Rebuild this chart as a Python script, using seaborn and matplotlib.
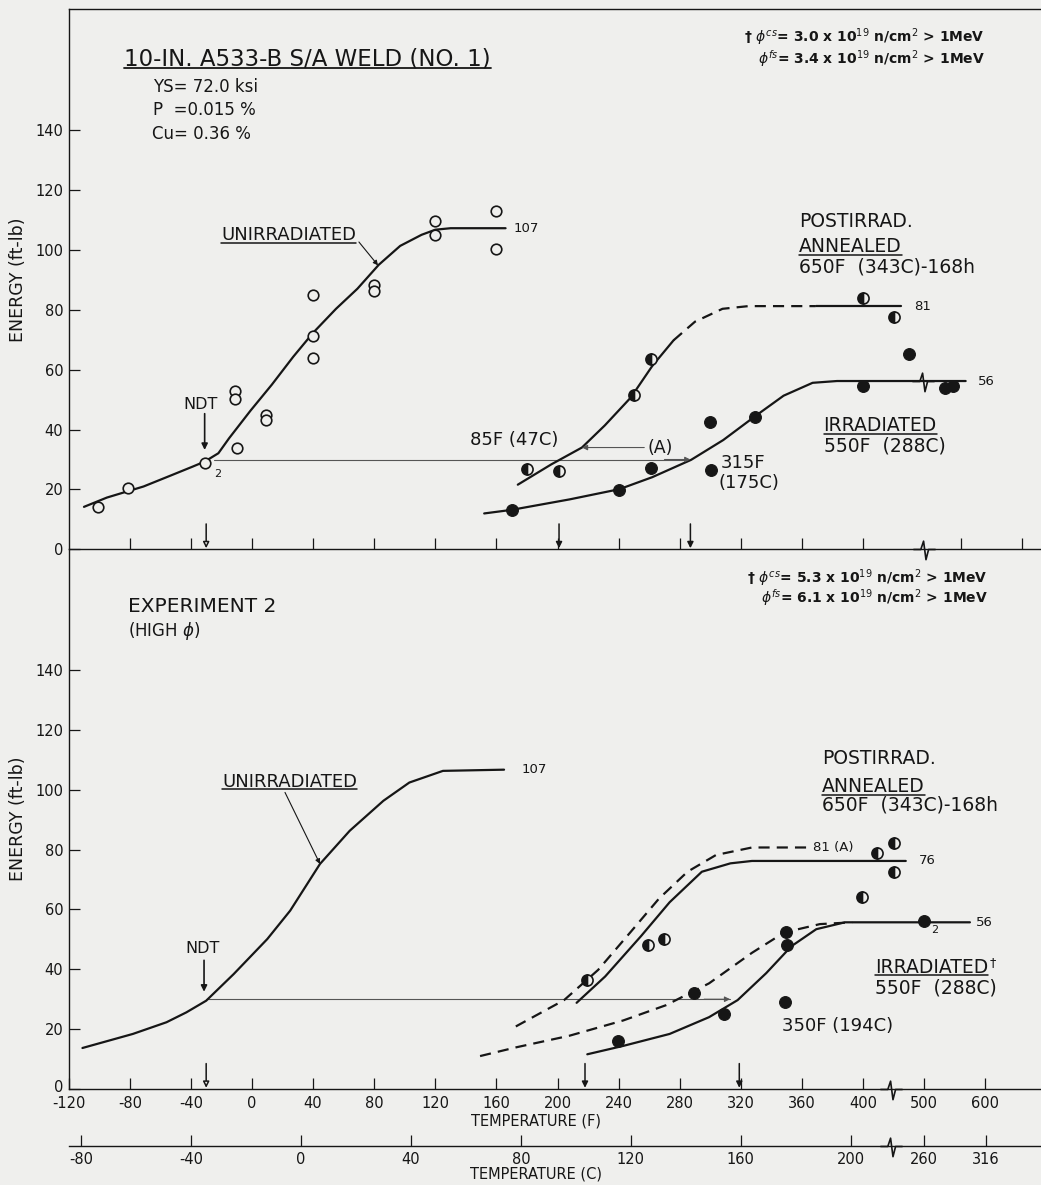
import numpy as np
import pandas as pd
import matplotlib
matplotlib.use("Agg")
import matplotlib.pyplot as plt
import seaborn as sns
from matplotlib.path import Path
from matplotlib.lines import Line2D
from matplotlib.transforms import ScaledTranslation

# ---------------- data ----------------
f_ticks_top = [-80, -40, 0, 40, 80, 120, 160, 200, 240, 280, 320, 360, 400, 500, 600]
f_ticks_bot = [-120, -80, -40, 0, 40, 80, 120, 160, 200, 240, 280, 320, 360, 400, 500, 600]
c_ticks = [-80, -40, 0, 40, 80, 120, 160, 200, 260, 316]
e_ticks = [0, 20, 40, 60, 80, 100, 120, 140]

# Experiment 1 (top panel)
e1_unirr_T = [-101, -81, -31, -10, -11, -11, 9, 9, 40, 40, 40, 80, 80, 120, 120, 160, 160]
e1_unirr_E = [14.0, 20.4, 29.0, 34.0, 52.8, 50.3, 44.9, 43.2, 85.0, 71.3, 63.9, 88.3, 86.2, 109.7, 104.8, 113.1, 100.3]
e1_unirr_fit_T = [-110, -95, -71, -53, -39, -31, -22, -15, -1, 13, 27, 40, 55, 69, 83, 97, 111, 120, 130, 166]
e1_unirr_fit_E = [14.2, 17.3, 21.0, 24.7, 27.6, 29.3, 32.1, 37.1, 46.3, 55.0, 64.3, 72.3, 80.3, 87.0, 95.0, 101.3, 105.0, 106.7, 107.2, 107.2]

e1_ann_T = [180, 201, 250, 261, 400, 420]
e1_ann_E = [26.8, 26.3, 51.5, 63.6, 84.0, 77.6]
e1_ann_fit_T = [174, 196, 216, 231, 248, 262, 276]
e1_ann_fit_E = [21.6, 28.4, 34.0, 41.4, 50.7, 61.2, 69.8]
e1_ann_dash_T = [276, 290, 308, 325, 369]
e1_ann_dash_E = [69.8, 76.0, 80.3, 81.2, 81.2]
e1_ann_upper_T = [369, 425]
e1_ann_upper_E = [81.2, 81.2]

e1_irr_T = [170, 240.5, 261, 300, 300.5, 329, 400, 430, 475, 488]
e1_irr_E = [13.2, 19.8, 27.2, 42.4, 26.6, 44.2, 54.6, 65.2, 53.8, 54.6]
e1_irr_fit_T = [152, 170, 208, 240.5, 262, 287.5, 308.5, 329.5, 348, 367, 383, 508]
e1_irr_fit_E = [12.0, 13.2, 16.7, 20.1, 24.1, 29.9, 36.5, 44.5, 51.3, 55.6, 56.2, 56.2]
e1_ref_T = [-25, 287]
e1_ref_E = [30, 30]
e1_arrows_T = [-30, 201, 287]

# Experiment 2 (bottom panel)
e2_unirr_fit_T = [-111, -78, -56, -43, -30, -12, 10, 25, 44.5, 64, 86, 103, 125, 165]
e2_unirr_fit_E = [13.7, 18.4, 22.3, 25.6, 29.5, 38.4, 50.1, 59.6, 75.2, 86.3, 96.3, 102.4, 106.3, 106.7]

e2_ann_T = [219.5, 259.4, 270, 399.4, 423, 451, 451]
e2_ann_E = [36.5, 48.0, 50.2, 64.3, 78.8, 82.2, 72.4]
e2_ann_dash_T = [172.7, 204.3, 226.6, 247.6, 266.4, 285.1, 303.8, 327.3, 364.8]
e2_ann_dash_E = [20.9, 29.7, 39.8, 52.3, 63.6, 72.6, 78.2, 80.7, 80.7]
e2_ann_fit_T = [212.5, 231.2, 254.7, 273.4, 294.5, 313.2, 327.3, 470]
e2_ann_fit_E = [28.8, 37.6, 51.1, 62.4, 72.6, 75.4, 76.2, 76.2]

e2_irr_T = [239.4, 289.4, 309.3, 349.5, 350.2, 349, 499]
e2_irr_E = [15.9, 32.2, 24.9, 52.3, 48.0, 29.1, 56.2]
e2_irr_dash_T = [149.3, 172.7, 207.8, 243, 271, 299.2, 327.3, 348.4, 371.8, 392.9]
e2_irr_dash_E = [11.0, 13.9, 17.8, 22.9, 28.0, 35.3, 45.5, 52.3, 55.1, 55.7]
e2_irr_fit_T = [219.5, 243, 273.4, 299.2, 317.9, 336.6, 353.1, 369.4, 388.2, 575]
e2_irr_fit_E = [11.6, 14.4, 18.4, 24.0, 29.7, 38.7, 47.7, 53.4, 55.7, 55.7]
e2_ref_T = [-30, 313]
e2_ref_E = [30, 30]
e2_arrows_T = [-30, 218, 319]

# ---------------- style ----------------
sns.set_theme(style="white")
plt.rcParams['font.family'] = ['DejaVu Sans']
plt.rcParams['mathtext.fontset'] = 'dejavusans'
plt.rcParams['axes.unicode_minus'] = False

BG = '#efefed'
INK = '#161616'
GREY = '#555555'
LW = 1.6
DASH = (0, (5, 3.2))


def broken_scale(b, k=0.4):
    def fwd(t):
        t = np.asarray(t, dtype=float)
        return np.where(t <= b, t, b + (t - b) * k)

    def inv(u):
        u = np.asarray(u, dtype=float)
        return np.where(u <= b, u, b + (u - b) / k)
    return (fwd, inv)


def f2c_pos(c):
    return np.asarray(c, dtype=float) * 9.0 / 5.0 + 32.0


fig = plt.figure(figsize=(10.41, 11.85), dpi=100, facecolor=BG)
L = 68.7 / 1041
W = 1 - L
a1 = fig.add_axes([L, 0.53637, W, 0.45587])
a2 = fig.add_axes([L, 0.08101, W, 0.45536])
for a in (a1, a2):
    a.set_facecolor('none')

a1.set_xscale('function', functions=broken_scale(440))
a2.set_xscale('function', functions=broken_scale(400))


def curve(ax, T, E, dashed=False, lw=LW, color=INK, z=3):
    sns.lineplot(x=T, y=E, ax=ax, color=color, lw=lw, sort=False, estimator=None,
                 linestyle=DASH if dashed else '-', zorder=z)


def open_pts(ax, T, E):
    sns.scatterplot(x=T, y=E, ax=ax, s=58, color=BG, edgecolor=INK, linewidth=1.2, zorder=5)


def solid_pts(ax, T, E):
    sns.scatterplot(x=T, y=E, ax=ax, s=72, color=INK, edgecolor=INK, linewidth=0.8, zorder=5)


def half_pts(ax, T, E):
    sns.lineplot(x=T, y=E, ax=ax, estimator=None, sort=False, linestyle='', marker='o',
                 markersize=8, fillstyle='left', markerfacecolor=INK,
                 markerfacecoloralt=BG, markeredgecolor=INK, markeredgewidth=1.2,
                 color=INK, zorder=5)


# ---- top panel ----
curve(a1, e1_unirr_fit_T, e1_unirr_fit_E)
open_pts(a1, e1_unirr_T, e1_unirr_E)
curve(a1, e1_ann_fit_T, e1_ann_fit_E)
curve(a1, e1_ann_dash_T, e1_ann_dash_E, dashed=True)
curve(a1, e1_ann_upper_T, e1_ann_upper_E)
half_pts(a1, e1_ann_T, e1_ann_E)
curve(a1, e1_irr_fit_T, e1_irr_fit_E)
solid_pts(a1, e1_irr_T, e1_irr_E)
curve(a1, e1_ref_T, e1_ref_E, lw=0.8, color=GREY, z=2)

# ---- bottom panel ----
curve(a2, e2_unirr_fit_T, e2_unirr_fit_E)
curve(a2, e2_ann_dash_T, e2_ann_dash_E, dashed=True)
curve(a2, e2_ann_fit_T, e2_ann_fit_E)
half_pts(a2, e2_ann_T, e2_ann_E)
curve(a2, e2_irr_dash_T, e2_irr_dash_E, dashed=True)
curve(a2, e2_irr_fit_T, e2_irr_fit_E)
solid_pts(a2, e2_irr_T, e2_irr_E)
curve(a2, e2_ref_T, e2_ref_E, lw=0.8, color=GREY, z=2)

# ---- axes ----
a1.set_xlim(-120, 631.3)
a2.set_xlim(-120, 691.3)
for a in (a1, a2):
    a.set_ylim(0, 180.3)
    a.set_yticks(e_ticks)
    a.set_yticklabels([str(v) for v in e_ticks])
    a.tick_params(axis='both', direction='in', length=8, width=0.9, colors=INK,
                  labelsize=10.5, pad=4, left=True, bottom=True)
    a.spines['right'].set_visible(False)
    for s in ('left', 'bottom', 'top'):
        a.spines[s].set_color(INK)
        a.spines[s].set_linewidth(1.0)
    a.set_ylabel('ENERGY (ft-lb)', fontsize=12.5, color=INK)
    a.yaxis.set_label_coords(-0.0432, 0.5)

a2.spines['top'].set_visible(False)
a1.set_xticks(f_ticks_top)
a1.tick_params(axis='x', labelbottom=False)
a2.set_xticks(f_ticks_bot)
a2.set_xticklabels([str(v) for v in f_ticks_bot])
a2.tick_params(axis='x', pad=5)
a2.set_xlabel('TEMPERATURE (F)', fontsize=10.5, color=INK)
a2.xaxis.set_label_coords(0.4806, -0.0455)
# lift the "0" energy label a little so it clears the "-120" temperature label
zero_lbl = a2.get_yticklabels()[0]
zero_lbl.set_transform(zero_lbl.get_transform() + ScaledTranslation(0, 3 / 100, fig.dpi_scale_trans))

# Celsius axis
ac = a2.twiny()
ac.set_xscale('function', functions=broken_scale(400))
ac.set_xlim(a2.get_xlim())
for s in ('top', 'left', 'right'):
    ac.spines[s].set_visible(False)
ac.spines['bottom'].set_position(('outward', 41.0))
ac.spines['bottom'].set_color(INK)
ac.spines['bottom'].set_linewidth(1.0)
ac.xaxis.set_ticks_position('bottom')
ac.xaxis.set_label_position('bottom')
ac.set_xticks(f2c_pos(c_ticks))
ac.set_xticklabels([str(v) for v in c_ticks])
ac.tick_params(axis='x', direction='in', length=8, width=0.9, colors=INK, labelsize=10.5, pad=4)
ac.set_xlabel('TEMPERATURE (C)', fontsize=10.5, color=INK)
ac.xaxis.set_label_coords(0.4806, -0.1445)

# break symbols
zig = Path([(-0.6, 0), (-0.2, 0), (-0.05, 0.45), (0.08, -0.55), (0.22, 0), (0.6, 0)],
           [Path.MOVETO] + [Path.LINETO] * 5)
zkw = dict(marker=zig, ms=16, mfc='none', mec=INK, mew=1.2, ls='none', clip_on=False, zorder=6)
a1.plot([440], [0], **zkw)
a1.plot([439], [56.2], **zkw)
a2.plot([445], [0], **zkw)
trans_c = a2.get_xaxis_transform() + ScaledTranslation(0, -57 / 100, fig.dpi_scale_trans)
a2.plot([445], [0], transform=trans_c, **zkw)


# arrows at x-axis
def axis_arrows(ax, Ts):
    for i, t in enumerate(Ts):
        fc = BG if i == 0 else INK
        ax.annotate('', xy=(t, 0.4), xytext=(t, 8.5),
                    arrowprops=dict(arrowstyle='-|>', lw=1.1, fc=fc, ec=INK,
                                    mutation_scale=9, shrinkA=0, shrinkB=0), zorder=6)


axis_arrows(a1, e1_arrows_T)
axis_arrows(a2, e2_arrows_T)


def arrow(ax, xy, xytext, lw=1.0, color=INK, ms=9):
    ax.annotate('', xy=xy, xytext=xytext,
                arrowprops=dict(arrowstyle='-|>', lw=lw, color=color,
                                mutation_scale=ms, shrinkA=0, shrinkB=0), zorder=6)


# ---- texts: top ----
tk = dict(color=INK)
under = []
t = a1.text(-83.8, 161.6, '10-IN. A533-B S/A WELD (NO. 1)', fontsize=16.5, va='baseline', **tk)
under.append((a1, t, 1.3))
a1.text(-64.8, 154.4, 'YS= 72.0 ksi', fontsize=12, va='center', **tk)
a1.text(-64.8, 146.6, 'P  =0.015 %', fontsize=12, va='center', **tk)
a1.text(-65.3, 138.8, 'Cu= 0.36 %', fontsize=12, va='center', **tk)
t = a1.text(-20.3, 103.2, 'UNIRRADIATED', fontsize=13, va='baseline', **tk)
under.append((a1, t, 1.1))
arrow(a1, (82.5, 94.8), (70, 102.6), lw=0.8, ms=7)
a1.text(-34, 48.3, 'NDT', fontsize=11.5, ha='center', va='center', **tk)
arrow(a1, (-31, 33.2), (-31, 45.3), lw=1.2)
a1.text(-24.9, 25.3, '2', fontsize=8, va='center', **tk)
a1.text(171.5, 107.2, '107', fontsize=9.5, va='center', **tk)
a1.text(358, 109.4, 'POSTIRRAD.', fontsize=13.5, va='center', **tk)
t = a1.text(358, 99.1, 'ANNEALED', fontsize=13.5, va='baseline', **tk)
under.append((a1, t, 1.1))
a1.text(358, 94.3, '650F  (343C)-168h', fontsize=13.5, va='center', **tk)
a1.text(433.4, 81.2, '81', fontsize=9.5, va='center', **tk)
a1.text(528, 56.2, '56', fontsize=9.5, va='center', **tk)
t = a1.text(374.2, 39.5, 'IRRADIATED', fontsize=13.5, va='baseline', **tk)
under.append((a1, t, 1.1))
a1.text(374.2, 34.6, '550F  (288C)', fontsize=13.5, va='center', **tk)
a1.text(307, 29.0, '315F', fontsize=13, va='center', **tk)
a1.text(305.7, 22.2, '(175C)', fontsize=13, va='center', **tk)
a1.text(142.5, 36.5, '85F (47C)', fontsize=13, va='center', **tk)
a1.text(259, 34.0, '(A)', fontsize=12.5, va='center', **tk)
arrow(a1, (216, 34), (256.8, 34), lw=0.8, color=GREY, ms=8)
arrow(a1, (287, 30), (270, 30), lw=0.8, color=GREY, ms=8)
fl = dict(ha='right', va='center', fontsize=10, fontweight='bold', **tk)
a1.text(0.9424, 0.9485, '† $\\phi^{cs}$= 3.0 x 10$^{19}$ n/cm$^{2}$ > 1MeV',
        transform=a1.transAxes, **fl)
a1.text(0.9424, 0.9087, '$\\phi^{fs}$= 3.4 x 10$^{19}$ n/cm$^{2}$ > 1MeV',
        transform=a1.transAxes, **fl)

# ---- texts: bottom ----
a2.text(-81.2, 161.2, 'EXPERIMENT 2', fontsize=14.5, va='center', **tk)
a2.text(-81.2, 153.1, '(HIGH $\\phi$)', fontsize=12, va='center', **tk)
t = a2.text(-19.6, 101.0, 'UNIRRADIATED', fontsize=13, va='baseline', **tk)
under.append((a2, t, 1.1))
arrow(a2, (44.5, 75.2), (21.6, 99.1), lw=0.8, ms=7)
a2.text(176.6, 106.8, '107', fontsize=9.5, va='center', **tk)
a2.text(-32.3, 46.8, 'NDT', fontsize=11.5, ha='center', va='center', **tk)
arrow(a2, (-31.4, 32.5), (-31.4, 43.0), lw=1.2)
a2.text(373, 110.4, 'POSTIRRAD.', fontsize=13.5, va='center', **tk)
t = a2.text(373, 99.1, 'ANNEALED', fontsize=13.5, va='baseline', **tk)
under.append((a2, t, 1.1))
a2.text(373, 95.0, '650F  (343C)-168h', fontsize=13.5, va='center', **tk)
a2.text(367, 80.7, '81 (A)', fontsize=9.5, va='center', **tk)
a2.text(492, 76.2, '76', fontsize=9.5, va='center', **tk)
a2.text(584, 55.7, '56', fontsize=9.5, va='center', **tk)
a2.text(512, 53.0, '2', fontsize=8, va='center', **tk)
t_irr2 = a2.text(419.7, 38.9, 'IRRADIATED', fontsize=13.5, va='baseline', **tk)
under.append((a2, t_irr2, 1.1))
a2.text(419.7, 33.6, '550F  (288C)', fontsize=13.5, va='center', **tk)
a2.text(347, 21.1, '350F (194C)', fontsize=13, va='center', **tk)
arrow(a2, (313, 30), (296, 30), lw=0.8, color=GREY, ms=8)
a2.text(0.9455, 0.9458, '† $\\phi^{cs}$= 5.3 x 10$^{19}$ n/cm$^{2}$ > 1MeV',
        transform=a2.transAxes, **fl)
a2.text(0.9455, 0.910, '$\\phi^{fs}$= 6.1 x 10$^{19}$ n/cm$^{2}$ > 1MeV',
        transform=a2.transAxes, **fl)

# ---- underlines ----
fig.canvas.draw()
r = fig.canvas.get_renderer()
inv = fig.transFigure.inverted()
for ax, txt, lw in under:
    bb = txt.get_window_extent(renderer=r)
    yb = ax.transData.transform(txt.get_position())[1] - 2.5
    (fx0, fy), (fx1, _) = inv.transform([(bb.x0, yb), (bb.x1, yb)])
    fig.add_artist(Line2D([fx0, fx1], [fy, fy], transform=fig.transFigure, color=INK, lw=lw))

bb = t_irr2.get_window_extent(renderer=r)
fx, fy = inv.transform((bb.x1 + 1, bb.y1 + 2))
fig.text(fx, fy, '†', fontsize=9, va='top', ha='left', color=INK)

fig.savefig('out.png', dpi=100, facecolor=BG)
